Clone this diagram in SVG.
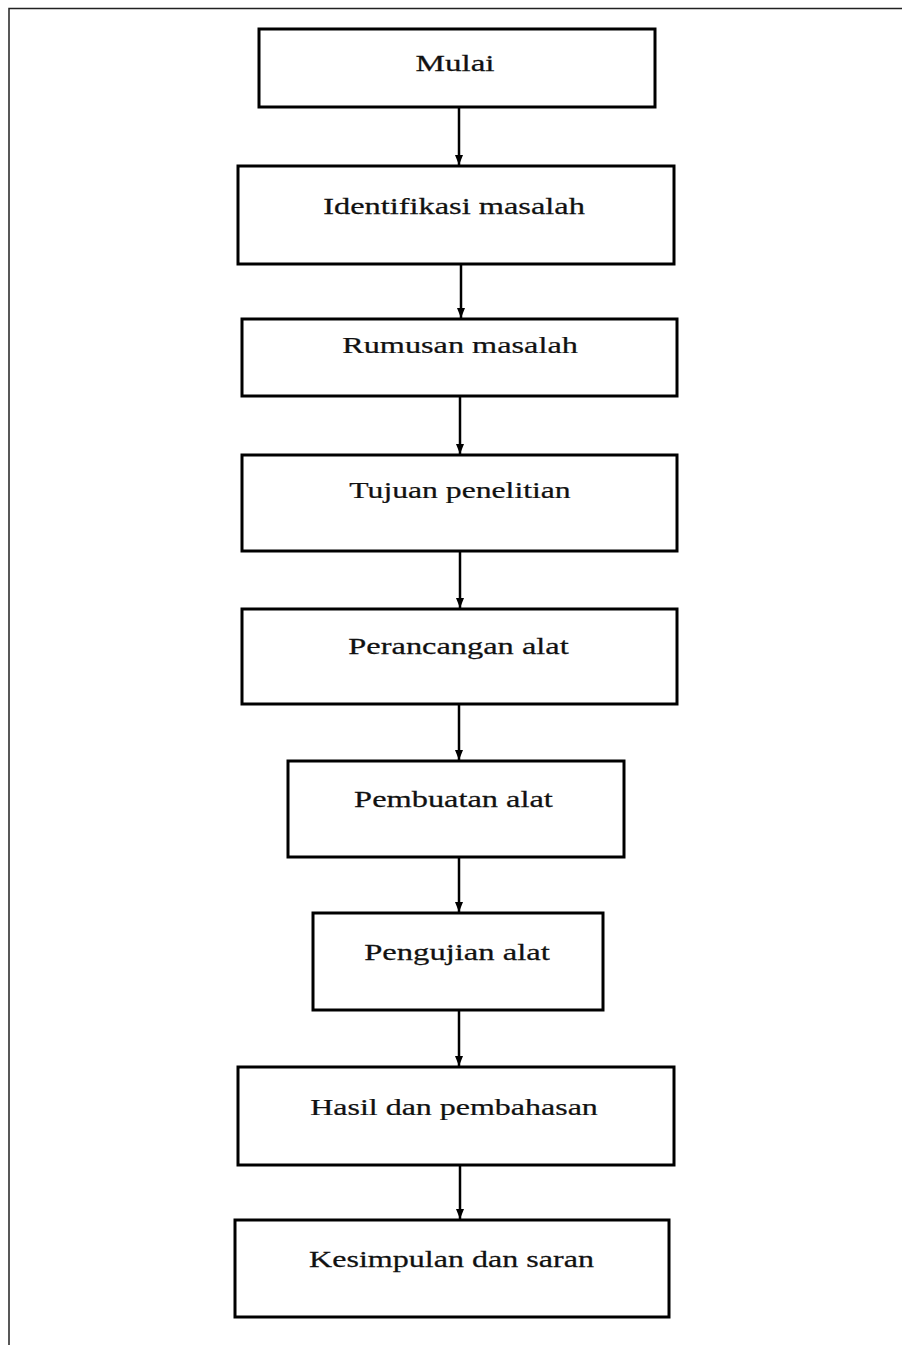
<svg xmlns="http://www.w3.org/2000/svg" width="902" height="1345" viewBox="0 0 902 1345">
<style>
.box{fill:#fff;stroke:#000;stroke-width:3}
.lbl{font-family:"Liberation Serif","Times New Roman",serif;font-size:24px;fill:#111;stroke:#111;stroke-width:0.25;text-anchor:middle}
.con{stroke:#000;stroke-width:2.5;fill:none;marker-end:url(#ah)}
.frame{stroke:#222;stroke-width:1.5;fill:none}
</style>
<defs>
<marker id="ah" viewBox="0 0 10 8" refX="10" refY="4" markerWidth="10" markerHeight="8" markerUnits="userSpaceOnUse" orient="auto">
<path d="M0,0 L10,4 L0,8 Z" fill="#000"/>
</marker>
</defs>
<rect width="902" height="1345" fill="#fff"/>
<path class="frame" d="M9,1345 V8.5 H902"/>
<g id="connectors">
<line class="con" x1="459" y1="107" x2="459" y2="165"/>
<line class="con" x1="461" y1="264" x2="461" y2="318"/>
<line class="con" x1="460" y1="396" x2="460" y2="454"/>
<line class="con" x1="460" y1="551" x2="460" y2="608"/>
<line class="con" x1="459" y1="704" x2="459" y2="760"/>
<line class="con" x1="459" y1="857" x2="459" y2="912"/>
<line class="con" x1="459" y1="1010" x2="459" y2="1066"/>
<line class="con" x1="460" y1="1165" x2="460" y2="1219"/>
</g>
<g id="n1"><rect class="box" x="259" y="29" width="396" height="78"/><text class="lbl" transform="translate(455,71) scale(1.38,1)">Mulai</text></g>
<g id="n2"><rect class="box" x="238" y="166" width="436" height="98"/><text class="lbl" transform="translate(454,214) scale(1.35,1)">Identifikasi masalah</text></g>
<g id="n3"><rect class="box" x="242" y="319" width="435" height="77"/><text class="lbl" transform="translate(460,353) scale(1.345,1)">Rumusan masalah</text></g>
<g id="n4"><rect class="box" x="242" y="455" width="435" height="96"/><text class="lbl" transform="translate(460,498) scale(1.32,1)">Tujuan penelitian</text></g>
<g id="n5"><rect class="box" x="242" y="609" width="435" height="95"/><text class="lbl" transform="translate(458.5,654) scale(1.35,1)">Perancangan alat</text></g>
<g id="n6"><rect class="box" x="288" y="761" width="336" height="96"/><text class="lbl" transform="translate(453.5,807) scale(1.35,1)">Pembuatan alat</text></g>
<g id="n7"><rect class="box" x="313" y="913" width="290" height="97"/><text class="lbl" transform="translate(457,960) scale(1.36,1)">Pengujian alat</text></g>
<g id="n8"><rect class="box" x="238" y="1067" width="436" height="98"/><text class="lbl" transform="translate(454,1115) scale(1.333,1)">Hasil dan pembahasan</text></g>
<g id="n9"><rect class="box" x="235" y="1220" width="434" height="97"/><text class="lbl" transform="translate(451.5,1267) scale(1.336,1)">Kesimpulan dan saran</text></g>
</svg>
